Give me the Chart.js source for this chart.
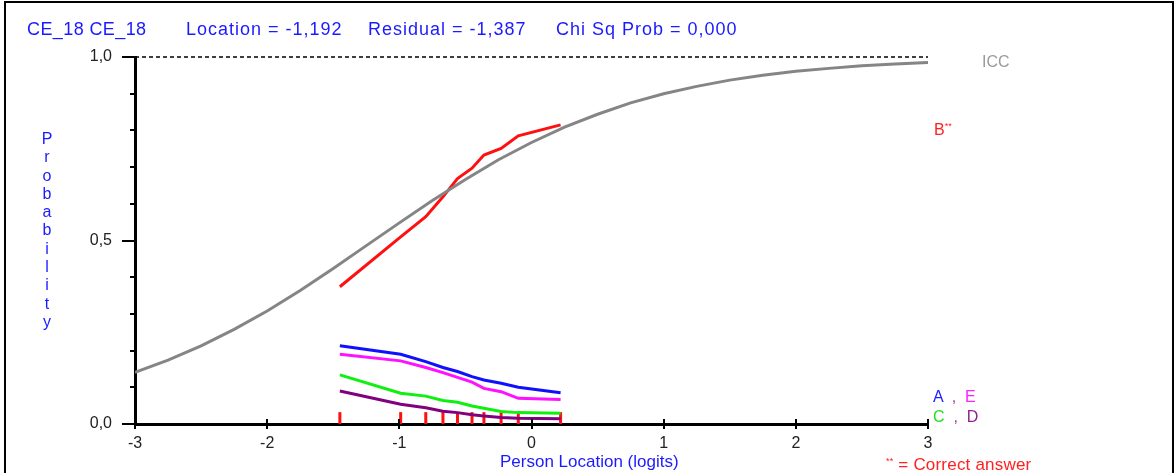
<!DOCTYPE html>
<html>
<head>
<meta charset="utf-8">
<script src="https://cdn.jsdelivr.net/npm/chart.js@4.4.1/dist/chart.umd.min.js"></script>
<style>
  html, body { margin: 0; padding: 0; background: #fff; }
  #wrap { position: relative; width: 1176px; height: 473px; overflow: hidden; font-family: 'Liberation Sans', Arial, sans-serif; }
  #frame { position: absolute; left: 4px; top: 1px; width: 1170px; height: 500px; border: 2px solid #000; box-sizing: border-box; pointer-events: none; }
  canvas { position: absolute; left: 0; top: 0; }
  .lbl { position: absolute; white-space: pre; font-size: 16px; line-height: 16px; }
  .t { top: 20px; font-size: 18px; line-height: 18px; letter-spacing: 1px; color: #1a1aff; }
  #ylab { left: 39px; top: 130px; width: 16px; text-align: center; color: #1a1aff; font-size: 16px; line-height: 18.3px; white-space: normal; }
  #xlab { left: 500px; top: 453px; color: #1a1aff; font-size: 17px; line-height: 17px; }
  #note { left: 886px; top: 453px; color: #ff2020; font-size: 17px; line-height: 17px; letter-spacing: 0.2px; }
  sup { font-size: 9px; vertical-align: 6px; }
</style>
</head>
<body>
<div id="wrap">
  <canvas id="chart" width="1176" height="473"></canvas>
  <div id="frame"></div>
  <div class="lbl t" style="left:27px;letter-spacing:0.4px;">CE_18 CE_18</div>
  <div class="lbl t" style="left:186px;">Location = -1,192</div>
  <div class="lbl t" style="left:368px;">Residual = -1,387</div>
  <div class="lbl t" style="left:556px;">Chi Sq Prob = 0,000</div>
  <div class="lbl" id="ylab">P<br>r<br>o<br>b<br>a<br>b<br>i<br>l<br>i<br>t<br>y</div>
  <div class="lbl" style="left:982px;top:54px;color:#9a9a9a;">ICC</div>
  <div class="lbl" style="left:934px;top:118px;color:#ff2020;">B<sup>**</sup></div>
  <div class="lbl" style="left:933px;top:389px;"><span style="color:#2020ff">A</span><span style="color:#a040a0">  ,  </span><span style="color:#ff20ff">E</span></div>
  <div class="lbl" style="left:933px;top:409px;"><span style="color:#20e020">C</span><span style="color:#a040a0">  ,  </span><span style="color:#902090">D</span></div>
  <div class="lbl" id="xlab">Person Location (logits)</div>
  <div class="lbl" id="note"><sup>**</sup> = Correct answer</div>
</div>
<script>
// ICC (theoretical curve)
const iccX = [-3, -2.75, -2.5, -2.25, -2, -1.75, -1.5, -1.25, -1, -0.75, -0.5, -0.25, 0, 0.25, 0.5, 0.75, 1, 1.25, 1.5, 1.75, 2, 2.25, 2.5, 2.75, 3];
const iccY = [0.141, 0.174, 0.213, 0.258, 0.308, 0.364, 0.424, 0.486, 0.548, 0.609, 0.666, 0.720, 0.767, 0.809, 0.844, 0.875, 0.900, 0.920, 0.937, 0.950, 0.961, 0.969, 0.976, 0.981, 0.985];

// class intervals (mean person location per group)
const classX = [-1.45, -0.99, -0.80, -0.67, -0.56, -0.45, -0.36, -0.23, -0.10, 0.22];

// observed proportions per answer option
const optB = [0.374, 0.510, 0.565, 0.619, 0.669, 0.697, 0.733, 0.751, 0.785, 0.815];
const optA = [0.213, 0.190, 0.170, 0.154, 0.143, 0.129, 0.120, 0.111, 0.100, 0.085];
const optE = [0.190, 0.172, 0.154, 0.140, 0.127, 0.114, 0.097, 0.088, 0.070, 0.067];
const optC = [0.134, 0.084, 0.076, 0.064, 0.059, 0.049, 0.043, 0.034, 0.031, 0.029];
const optD = [0.090, 0.054, 0.044, 0.035, 0.031, 0.025, 0.022, 0.018, 0.016, 0.014];

const xTicks = [-3, -2, -1, 0, 1, 2, 3];
const yTicks = [0, 0.5, 1];

const pts = (xs, ys) => xs.map((x, i) => ({ x: x, y: ys[i] }));

function lineSet(data, color, width) {
  return {
    data: data,
    showLine: true,
    borderColor: color,
    borderWidth: width || 3,
    pointRadius: 0,
    tension: 0,
    fill: false
  };
}

// minor / major tick marks like the original plot
const tickMarks = {
  id: 'tickMarks',
  afterDraw(chart) {
    const ctx = chart.ctx, xs = chart.scales.x, ys = chart.scales.y;
    const x0 = xs.left, y0 = ys.bottom;
    ctx.save();
    ctx.strokeStyle = '#000';
    ctx.lineWidth = 2;
    for (let i = 0; i <= 10; i++) {
      const v = i / 10;
      const py = Math.round(ys.getPixelForValue(v));
      const len = (i % 5 === 0) ? 13 : 5;
      ctx.beginPath();
      ctx.moveTo(x0 - len, py);
      ctx.lineTo(x0, py);
      ctx.stroke();
    }
    xTicks.forEach(function (v) {
      const px = Math.round(xs.getPixelForValue(v));
      ctx.beginPath();
      ctx.moveTo(px, y0 - 5);
      ctx.lineTo(px, y0 + 5);
      ctx.stroke();
    });
    ctx.restore();
  }
};

const tickFont = { family: "'Liberation Sans', Arial, sans-serif", size: 16 };

new Chart(document.getElementById('chart'), {
  type: 'scatter',
  data: {
    datasets: [
      Object.assign(lineSet([{ x: -3, y: 1 }, { x: 3, y: 1 }], '#000', 1.5), { borderDash: [4, 3], clip: false }),
      lineSet(pts(iccX, iccY), '#858585'),
      lineSet(pts(classX, optB), '#ff1010'),
      lineSet(pts(classX, optA), '#1010ff'),
      lineSet(pts(classX, optE), '#ff10ff'),
      lineSet(pts(classX, optC), '#10f010'),
      lineSet(pts(classX, optD), '#800080'),
      {
        data: classX.map(x => ({ x: x, y: 0.016 })),
        pointStyle: 'line',
        rotation: 90,
        pointRadius: 6,
        borderWidth: 3,
        borderColor: '#ff1010',
        backgroundColor: '#ff1010',
        showLine: false
      }
    ]
  },
  options: {
    responsive: false,
    animation: false,
    layout: { padding: { left: 0, right: 248, top: 57, bottom: 0 } },
    plugins: {
      legend: { display: false },
      tooltip: { enabled: false }
    },
    scales: {
      x: {
        type: 'linear',
        min: -3,
        max: 3,
        afterFit(scale) { scale.height = 49; },
        afterBuildTicks(scale) { scale.ticks = xTicks.map(v => ({ value: v })); },
        grid: { display: false },
        border: { display: true, color: '#000', width: 3 },
        ticks: {
          padding: 2,
          color: '#222',
          font: tickFont,
          callback: v => String(v)
        }
      },
      y: {
        min: 0,
        max: 1,
        afterFit(scale) { scale.width = 135; },
        afterBuildTicks(scale) { scale.ticks = yTicks.map(v => ({ value: v })); },
        grid: { display: false },
        border: { display: true, color: '#000', width: 3 },
        ticks: {
          padding: 15,
          color: '#222',
          font: tickFont,
          callback: v => v.toFixed(1).replace('.', ',')
        }
      }
    }
  },
  plugins: [tickMarks]
});
</script>
</body>
</html>
